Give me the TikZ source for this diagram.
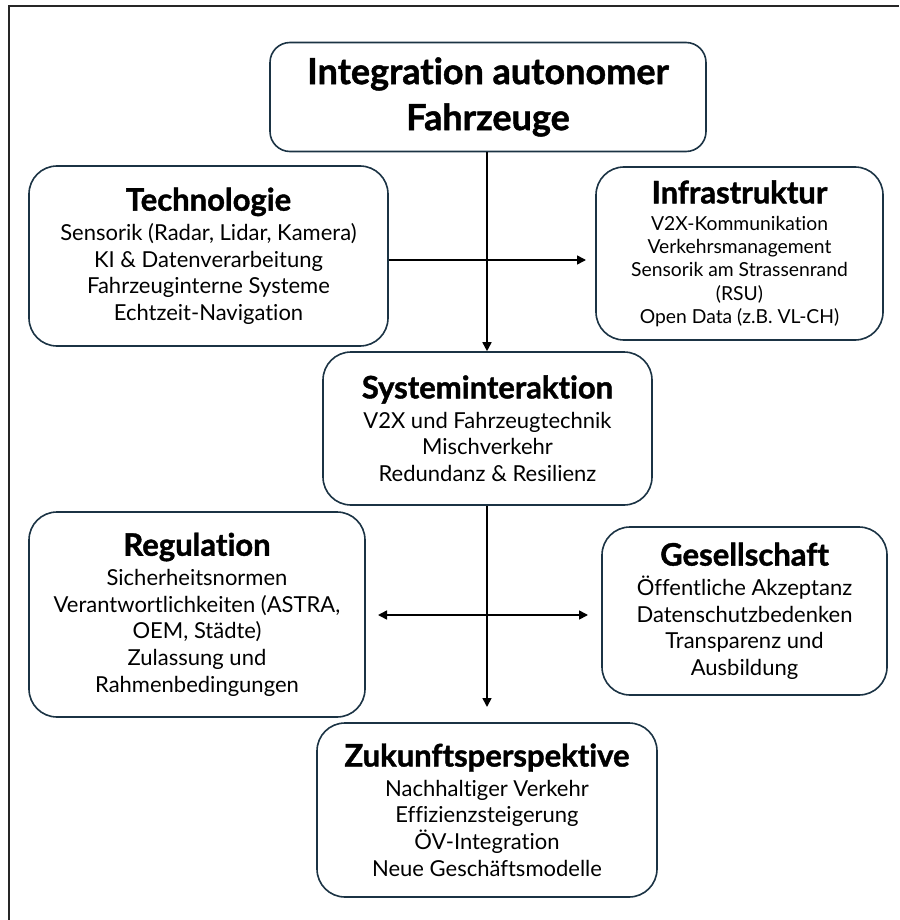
\documentclass[tikz,border=0pt]{standalone}
\usepackage{fontspec}
\setmainfont{Lato}[RawFeature={-liga;-dlig;-clig},BoldFeatures={FakeBold=1.3}]
\usetikzlibrary{arrows.meta}
\definecolor{boxline}{HTML}{1B3344}
\tikzset{
  card/.style={draw=boxline, line width=1.6pt, rounded corners=28pt, fill=white,
    align=center, inner sep=0pt, text=black},
  body/.style={font=\fontsize{22}{26.7}\selectfont},
  smallbody/.style={font=\fontsize{19.3}{23.2}\selectfont},
  arr/.style={line width=1.6pt, -{Triangle[length=9pt,width=9pt]}},
  biarr/.style={line width=1.6pt, {Triangle[length=9pt,width=9pt]}-{Triangle[length=9pt,width=9pt]}},
}
\newcommand{\cardtitle}[1]{{\bfseries\fontsize{31}{30}\selectfont #1}}
\begin{document}
\begin{tikzpicture}[x=1pt,y=-1pt]
  \useasboundingbox (0,0) rectangle (899,920);
  % frame edges
  \draw[line width=1.8pt, black!85] (9,920) -- (9,6) -- (899,6);

  \node[card, rounded corners=20pt, minimum width=436pt, minimum height=109pt,
        font=\bfseries\fontsize{36}{46}\selectfont] (top) at (488,97)
        {Integration autonomer\\Fahrzeuge};

  \node[card, body, minimum width=359pt, minimum height=180pt] (tech) at (208.5,256)
    {\cardtitle{Technologie}\\[3pt]
     Sensorik (Radar, Lidar, Kamera)\\
     KI \& Datenverarbeitung\\
     Fahrzeuginterne Systeme\\
     Echtzeit-Navigation};

  \node[card, smallbody, minimum width=287pt, minimum height=173pt] (infra) at (739.5,253.5)
    {\cardtitle{Infrastruktur}\\[4pt]
     V2X-Kommunikation\\
     Verkehrsmanagement\\
     Sensorik am Strassenrand\\
     (RSU)\\
     Open Data (z.B. VL-CH)};

  \node[card, body, minimum width=329pt, minimum height=153pt] (sys) at (487.5,428.5)
    {\cardtitle{Systeminteraktion}\\[3pt]
     V2X und Fahrzeugtechnik\\
     Mischverkehr\\
     Redundanz \& Resilienz};

  \node[card, body, minimum width=336pt, minimum height=205pt] (reg) at (197,614.5)
    {\cardtitle{Regulation}\\[3pt]
     Sicherheitsnormen\\
     Verantwortlichkeiten (ASTRA,\\
     OEM, Städte)\\
     Zulassung und\\
     Rahmenbedingungen};

  \node[card, body, minimum width=285pt, minimum height=168pt] (ges) at (744.5,611)
    {\cardtitle{Gesellschaft}\\[3pt]
     Öffentliche Akzeptanz\\
     Datenschutzbedenken\\
     Transparenz und\\
     Ausbildung};

  \node[card, body, minimum width=340pt, minimum height=174pt] (zuk) at (487,810)
    {\cardtitle{Zukunftsperspektive}\\[3pt]
     Nachhaltiger Verkehr\\
     Effizienzsteigerung\\
     ÖV-Integration\\
     Neue Geschäftsmodelle};

  % connectors
  \coordinate (h1) at (389,260);
  \coordinate (h1end) at (586,260);
  \coordinate (h2l) at (378,615);
  \coordinate (h2r) at (588,615);
  \coordinate (v2end) at (487,707);

  \draw[arr] (top.south -| 487,0) -- (sys.north -| 487,0);
  \draw[arr] (h1) -- (h1end);
  \draw[arr] (sys.south -| 487,0) -- (v2end);
  \draw[biarr] (h2l) -- (h2r);
\end{tikzpicture}
\end{document}
